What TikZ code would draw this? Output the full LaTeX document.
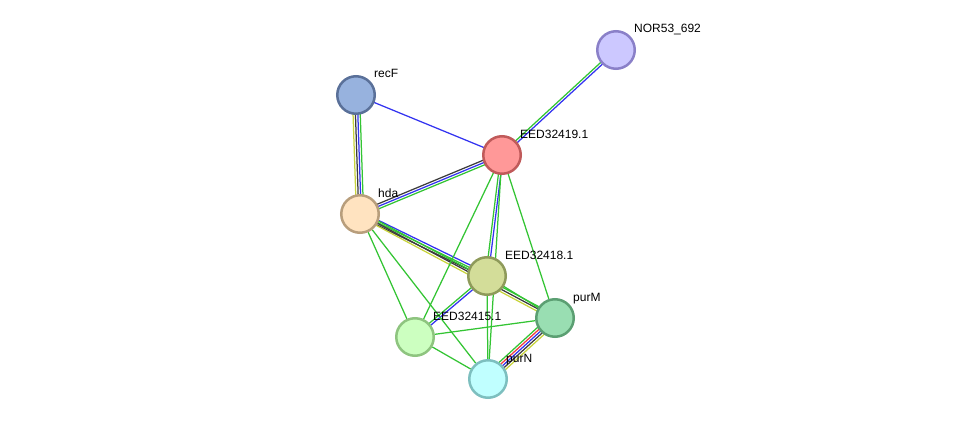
\documentclass[tikz,border=0pt]{standalone}
\usepackage{fontspec}
\setmainfont{Liberation Sans}
\usetikzlibrary{calc, backgrounds}
\usepackage{color}
% string colours
\definecolor{lnkgreen}{RGB}{51, 196, 51}
\definecolor{lnkblue}{RGB}{51, 51, 240}
\definecolor{lnkdark}{RGB}{60, 60, 60}
\definecolor{lnkyellow}{RGB}{200, 212, 60}
\definecolor{lnkred}{RGB}{240, 60, 60}

% #1 from, #2 to, #3 number of lines, #4 colours
\newcommand{\linkset}[4]{%
  \foreach \c [count=\i] in {#4} {
    \pgfmathsetmacro\off{(\i-(#3+1)/2)*2.4}
    \draw[lnk, \c] ($(#1)!\off pt!90:(#2)$) -- ($(#2)!\off pt!-90:(#1)$);
  }}

\begin{document}
\begin{tikzpicture}[x=1pt, y=-1pt,
    prot/.style={draw, circle, minimum size=37.5pt, inner sep=0pt, line width=2.5pt},
    lbl/.style={anchor=base west, xshift=18pt, yshift=17pt, inner sep=0pt, font=\fontsize{12}{14}\selectfont},
    lnk/.style={line width=1.25pt}]
    \path[use as bounding box] (0,0) rectangle (976,425);

    \node[prot, fill={rgb,255:red,204;green,200;blue,255}, draw={rgb,255:red,138;green,128;blue,200}] (nor) at (616,50) {};
    \node[prot, fill={rgb,255:red,151;green,178;blue,222}, draw={rgb,255:red,90;green,112;blue,153}] (recF) at (356,95) {};
    \node[prot, fill={rgb,255:red,255;green,152;blue,152}, draw={rgb,255:red,192;green,90;blue,90}] (e419) at (502,155) {};
    \node[prot, fill={rgb,255:red,255;green,227;blue,192}, draw={rgb,255:red,184;green,158;blue,124}] (hda) at (360,214) {};
    \node[prot, fill={rgb,255:red,211;green,221;blue,153}, draw={rgb,255:red,142;green,154;blue,90}] (e418) at (487,276) {};
    \node[prot, fill={rgb,255:red,153;green,222;blue,178}, draw={rgb,255:red,91;green,159;blue,114}] (purM) at (555,318) {};
    \node[prot, fill={rgb,255:red,204;green,255;blue,192}, draw={rgb,255:red,142;green,196;blue,127}] (e415) at (415,337) {};
    \node[prot, fill={rgb,255:red,192;green,255;blue,255}, draw={rgb,255:red,125;green,191;blue,191}] (purN) at (488,379) {};

    % labels
    \node[lbl] (nor-l) at (nor) {NOR53\_692};
    \node[lbl] (recF-l) at (recF) {recF};
    \node[lbl] (e419-l) at (e419) {EED32419.1};
    \node[lbl] (hda-l) at (hda) {hda};
    \node[lbl] (e418-l) at (e418) {EED32418.1};
    \node[lbl] (purM-l) at (purM) {purM};
    \node[lbl] (e415-l) at (e415) {EED32415.1};
    \node[lbl] (purN-l) at (purN) {purN};

    \begin{pgfonlayer}{background}
    \linkset{e419}{nor}{2}{lnkblue,lnkgreen}
    \linkset{recF}{e419}{1}{lnkblue}
    \linkset{recF}{hda}{4}{lnkyellow,lnkdark,lnkblue,lnkgreen}
    \linkset{hda}{e419}{3}{lnkgreen,lnkblue,lnkdark}
    \linkset{hda}{e418}{3}{lnkdark,lnkgreen,lnkblue}
    \linkset{hda}{purM}{3}{lnkyellow,lnkdark,lnkgreen}
    \linkset{e419}{e418}{2}{lnkgreen,lnkblue}
    \linkset{e418}{e415}{2}{lnkgreen,lnkblue}
    \linkset{purM}{purN}{5}{lnkgreen,lnkred,lnkblue,lnkdark,lnkyellow}
    \foreach \a/\b in {e419/e415, e419/purN, e419/purM, hda/e415, hda/purN,
                       e418/purN, e418/purM, e415/purM, e415/purN}
      \draw[lnk, lnkgreen] (\a) -- (\b);
    \end{pgfonlayer}
\end{tikzpicture}
\end{document}
